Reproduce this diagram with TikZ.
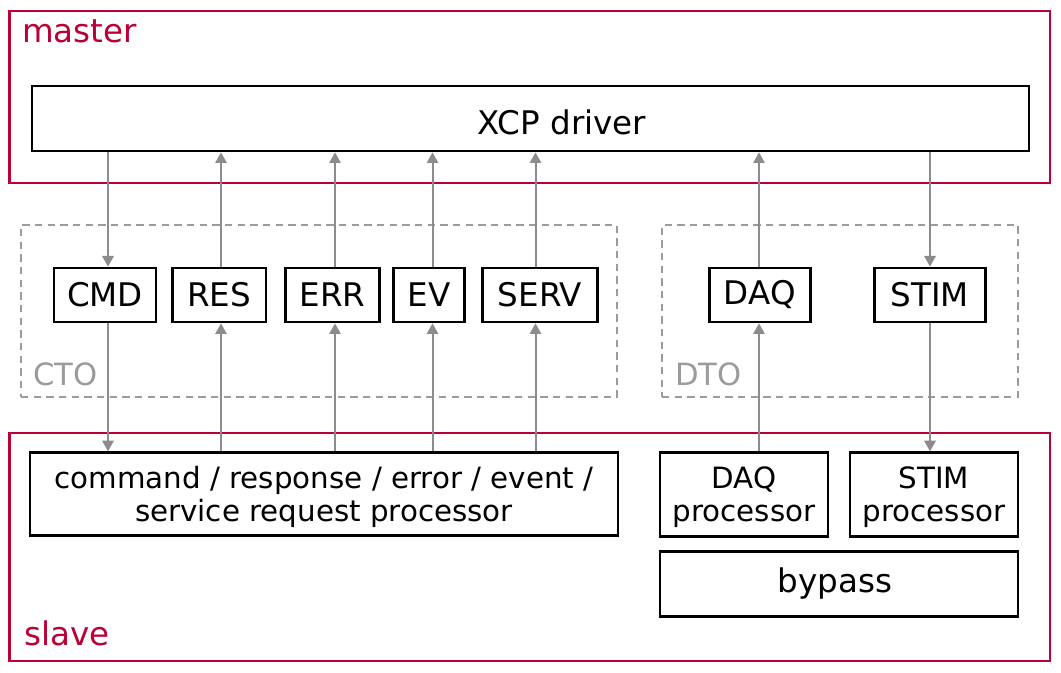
\documentclass[tikz,border=0pt]{standalone}
\usepackage{fontspec}
\setmainfont{DejaVu Sans}
\usetikzlibrary{arrows.meta,fit}
\definecolor{xred}{RGB}{186,0,52}
\definecolor{xgray}{RGB}{140,140,140}
\definecolor{xdash}{RGB}{155,155,155}
\newcommand{\bigtxt}{\fontsize{24.4}{29}\selectfont}
\newcommand{\smalltxt}{\fontsize{22}{24.5}\selectfont}
\tikzset{
  redbox/.style={draw=xred, line width=1.7pt, inner sep=0pt},
  blackbox/.style={draw=black, line width=2pt, inner sep=0pt},
  dashbox/.style={draw=xdash, line width=1.5pt, dash pattern=on 5.5pt off 4pt, inner sep=0pt},
  txt/.style={inner sep=0pt, align=center},
  redlbl/.style={text=xred, font=\bigtxt, inner sep=0pt, anchor=base west},
  graylbl/.style={text=xdash, font=\fontsize{23}{27}\selectfont, inner sep=0pt, anchor=base west},
  arr/.style={draw=xgray, line width=1.5pt, -{Triangle[width=8.5pt,length=8pt]}},
}
\begin{document}
\begin{tikzpicture}[x=0.75pt,y=-0.75pt]
\useasboundingbox (0,0) rectangle (1061,673);
% containers
\node[redbox, fit={(9.5,11) (1050,183)}] (master) {};
\node[redbox, fit={(9.5,433) (1050,661)}] (slave) {};
\node[dashbox, fit={(21,225) (617,397)}] (cto) {};
\node[dashbox, fit={(662,225) (1018,397)}] (dto) {};
\node[redlbl] (mlab) at (22,43) {master};
\node[redlbl] (slab) at (24,645) {slave};
\node[graylbl] (ctolab) at (33,386) {CTO};
\node[graylbl] (dtolab) at (675,386) {DTO};
% master
\node[blackbox, fit={(32,86) (1029,151)}] (xcp) {};
\node[txt, font=\bigtxt, anchor=base] (xcpt) at (562,135) {XCP driver};
% CTO boxes
\node[blackbox, fit={(54,268) (156,322)}] (cmd) {};
\node[blackbox, fit={(172.5,268) (266,322)}] (res) {};
\node[blackbox, fit={(285.7,268) (379.3,322)}] (err) {};
\node[blackbox, fit={(393.7,268) (464.3,322)}] (ev) {};
\node[blackbox, fit={(482.7,268) (597.3,322)}] (serv) {};
\node[txt, font=\bigtxt] (cmdt) at (cmd.center) {CMD};
\node[txt, font=\bigtxt] (rest) at (res.center) {RES};
\node[txt, font=\bigtxt] (errt) at (err.center) {ERR};
\node[txt, font=\bigtxt] (evt) at (ev.center) {EV};
\node[txt, font=\bigtxt] (servt) at (serv.center) {SERV};
% DTO boxes
\node[blackbox, fit={(709.3,268) (810.3,322)}] (daq) {};
\node[blackbox, fit={(874.3,268) (985.3,322)}] (stim) {};
\node[txt, font=\bigtxt] (daqt) at (daq.center) {DAQ};
\node[txt, font=\bigtxt] (stimt) at (stim.center) {STIM};
% slave boxes
\node[blackbox, fit={(30,452.7) (618,535.5)}] (cproc) {};
\node[blackbox, fit={(660,452.7) (828,536.7)}] (dproc) {};
\node[blackbox, fit={(850,452.7) (1018,536.7)}] (sproc) {};
\node[blackbox, fit={(660,551.7) (1018,616.7)}] (bypass) {};
\node[txt, font=\smalltxt, yshift=-2pt] (cproct) at (cproc.center) {command / response / error / event /\\service request processor};
\node[txt, font=\smalltxt, yshift=-2pt] (dproct) at (dproc.center) {DAQ\\processor};
\node[txt, font=\smalltxt, yshift=-2pt] (sproct) at (sproc.center) {STIM\\processor};
\node[txt, font=\bigtxt, anchor=base] (bypasst) at (835,593) {bypass};
% connectors
\draw[arr] (108,0 |- xcp.south) -- (108,0 |- cmd.north);
\draw[arr] (108,0 |- cmd.south) -- (108,0 |- cproc.north);
\draw[arr] (221,0 |- res.north) -- (221,0 |- xcp.south);
\draw[arr] (221,0 |- cproc.north) -- (221,0 |- res.south);
\draw[arr] (335,0 |- err.north) -- (335,0 |- xcp.south);
\draw[arr] (335,0 |- cproc.north) -- (335,0 |- err.south);
\draw[arr] (432.5,0 |- ev.north) -- (432.5,0 |- xcp.south);
\draw[arr] (432.5,0 |- cproc.north) -- (432.5,0 |- ev.south);
\draw[arr] (535.5,0 |- serv.north) -- (535.5,0 |- xcp.south);
\draw[arr] (535.5,0 |- cproc.north) -- (535.5,0 |- serv.south);
\draw[arr] (759,0 |- daq.north) -- (759,0 |- xcp.south);
\draw[arr] (759,0 |- dproc.north) -- (759,0 |- daq.south);
\draw[arr] (930,0 |- xcp.south) -- (930,0 |- stim.north);
\draw[arr] (930,0 |- stim.south) -- (930,0 |- sproc.north);
\end{tikzpicture}
\end{document}
